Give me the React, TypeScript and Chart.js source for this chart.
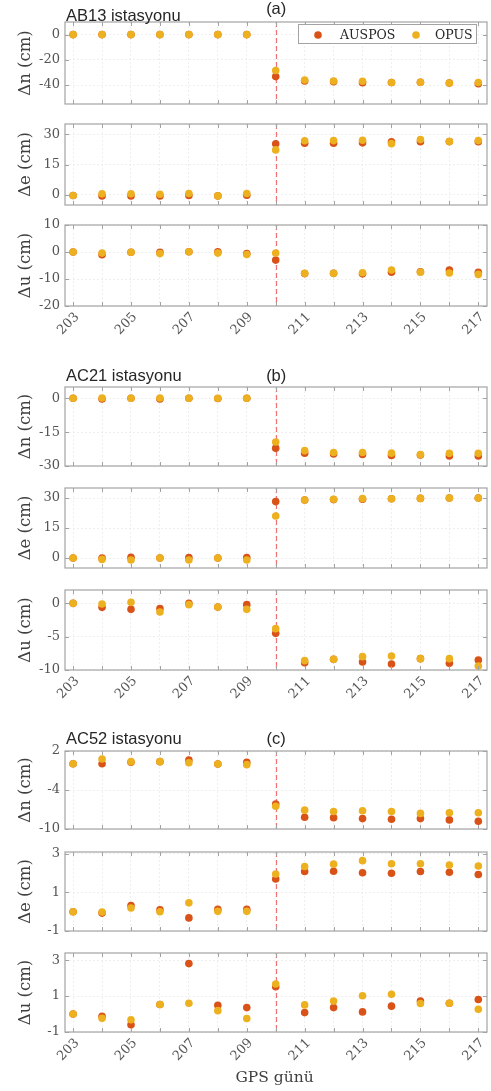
import React, { useEffect, useRef } from 'react';
import { Chart, registerables } from 'chart.js';

Chart.register(...registerables);

// ---------- data ----------
const days = [203, 204, 205, 206, 207, 208, 209, 210, 211, 212, 213, 214, 215, 216, 217];
const xTickLabels = [203, 205, 207, 209, 211, 213, 215, 217];
const eventDay = 210;

// (a) AB13
const ab13N_auspos = [0, 0, 0, 0, 0, 0, 0, -33.3, -36.8, -37.3, -38.1, -37.9, -37.8, -38.4, -38.9];
const ab13N_opus = [0, 0, 0, 0, 0, 0, 0, -28.5, -36.0, -36.8, -37.0, -37.9, -37.8, -38.4, -38.0];
const ab13E_auspos = [-0.3, -0.5, -0.5, -0.5, -0.3, -0.5, -0.2, 25.2, 25.5, 25.5, 25.7, 26.2, 26.2, 26.3, 26.2];
const ab13E_opus = [-0.3, 0.5, 0.5, 0.3, 0.7, -0.5, 0.7, 22.2, 26.7, 26.8, 27.0, 25.3, 27.3, 26.3, 26.8];
const ab13U_auspos = [0, -1.0, -0.1, -0.1, 0.1, 0.1, -0.6, -3.0, -8.0, -7.9, -8.1, -7.5, -7.3, -6.7, -7.5];
const ab13U_opus = [0, -0.4, -0.1, -0.6, 0.1, -0.4, -0.9, -0.4, -7.9, -7.9, -7.7, -6.7, -7.5, -7.8, -8.3];

// (b) AC21
const ac21N_auspos = [0, -0.3, 0, -0.3, 0, -0.1, 0, -22.1, -24.3, -24.7, -24.9, -25.3, -25.1, -25.6, -25.6];
const ac21N_opus = [0, 0.1, 0, 0.1, 0, 0, 0, -19.4, -23.2, -24.0, -24.0, -24.3, -24.9, -24.4, -24.4];
const ac21E_auspos = [0, 0, 0.3, 0, 0.2, 0, 0.2, 28.2, 29.0, 29.2, 29.4, 29.6, 29.8, 30.0, 30.0];
const ac21E_opus = [0, -0.7, -1.0, 0, -1.0, 0, -1.0, 21.0, 29.0, 29.4, 29.7, 29.6, 29.8, 30.0, 30.0];
const ac21U_auspos = [0, -0.6, -0.9, -0.8, 0, -0.55, -0.2, -4.5, -8.9, -8.4, -8.8, -9.1, -8.3, -9.0, -8.5];
const ac21U_opus = [0, -0.1, 0.15, -1.3, -0.2, -0.55, -0.9, -3.8, -8.6, -8.4, -8.0, -7.9, -8.3, -8.3, -9.4];

// (c) AC52
const ac52N_auspos = [0.05, 0.05, 0.26, 0.36, 0.6, 0, 0.26, -6.15, -8.2, -8.25, -8.4, -8.5, -8.4, -8.6, -8.8];
const ac52N_opus = [0.05, 0.77, 0.36, 0.36, 0.2, 0, -0.1, -6.5, -7.1, -7.3, -7.2, -7.3, -7.6, -7.5, -7.5];
const ac52E_auspos = [0, -0.07, 0.32, 0.1, -0.32, 0.12, 0.12, 1.7, 2.09, 2.1, 2.02, 2.0, 2.09, 2.05, 1.93];
const ac52E_opus = [0, -0.02, 0.19, 0, 0.46, 0.02, 0.02, 1.96, 2.35, 2.47, 2.65, 2.49, 2.49, 2.42, 2.37];
const ac52U_auspos = [0, -0.12, -0.6, 0.53, 2.81, 0.49, 0.36, 1.52, 0.08, 0.36, 0.12, 0.44, 0.72, 0.6, 0.81];
const ac52U_opus = [0, -0.23, -0.32, 0.53, 0.6, 0.19, -0.25, 1.67, 0.51, 0.72, 1.02, 1.1, 0.59, 0.6, 0.27];

// y tick values
const ticksAB13N = [-40, -20, 0];
const ticksAB13E = [0, 15, 30];
const ticksAB13U = [-20, -10, 0, 10];
const ticksAC21N = [-30, -15, 0];
const ticksAC21E = [0, 15, 30];
const ticksAC21U = [-10, -5, 0];
const ticksAC52N = [-10, -4, 2];
const ticksAC52E = [-1, 1, 3];
const ticksAC52U = [-1, 1, 3];

const seriesNames = ['AUSPOS', 'OPUS'];
const stationTitles = ['AB13 istasyonu', 'AC21 istasyonu', 'AC52 istasyonu'];
const panelTags = ['(a)', '(b)', '(c)'];
const xAxisTitle = 'GPS günü';

// ---------- styles ----------
const RED = '#D95319';
const ORANGE = '#EDB120';
const SERIF = "'DejaVu Serif', serif";
const SANS = "'Liberation Sans', Arial, sans-serif";
const TICK_COLOR = '#555555';
const FRAME = '#a3a3a3';
const GRID = '#ebebeb';
const W = 491;
const R = 3.8;

type PanelCfg = {
  top: number; bottom: number; min: number; max: number;
  yTicks: number[]; yLabel: string; a: number[]; o: number[];
  padTop: number; bottomSpace: number; showX: boolean;
  title?: string; tag?: string; titleBase?: number; tagBase?: number;
  legend?: boolean; xTitle?: boolean;
};

const panels: PanelCfg[] = [
  { top: 22, bottom: 104, min: -55, max: 10, yTicks: ticksAB13N, yLabel: 'Δn (cm)', a: ab13N_auspos, o: ab13N_opus, padTop: 22, bottomSpace: 10, showX: false, title: stationTitles[0], tag: panelTags[0], titleBase: 20.5, tagBase: 13.5, legend: true },
  { top: 124, bottom: 205, min: -5, max: 35, yTicks: ticksAB13E, yLabel: 'Δe (cm)', a: ab13E_auspos, o: ab13E_opus, padTop: 10, bottomSpace: 10, showX: false },
  { top: 225, bottom: 306, min: -20, max: 10, yTicks: ticksAB13U, yLabel: 'Δu (cm)', a: ab13U_auspos, o: ab13U_opus, padTop: 10, bottomSpace: 40, showX: true },
  { top: 387, bottom: 466, min: -30, max: 5, yTicks: ticksAC21N, yLabel: 'Δn (cm)', a: ac21N_auspos, o: ac21N_opus, padTop: 24, bottomSpace: 10, showX: false, title: stationTitles[1], tag: panelTags[1], titleBase: 380.5, tagBase: 380.5 },
  { top: 488, bottom: 568, min: -5, max: 35, yTicks: ticksAC21E, yLabel: 'Δe (cm)', a: ac21E_auspos, o: ac21E_opus, padTop: 10, bottomSpace: 10, showX: false },
  { top: 590, bottom: 670, min: -10, max: 2, yTicks: ticksAC21U, yLabel: 'Δu (cm)', a: ac21U_auspos, o: ac21U_opus, padTop: 10, bottomSpace: 40, showX: true },
  { top: 751, bottom: 829, min: -10, max: 2, yTicks: ticksAC52N, yLabel: 'Δn (cm)', a: ac52N_auspos, o: ac52N_opus, padTop: 24, bottomSpace: 10, showX: false, title: stationTitles[2], tag: panelTags[2], titleBase: 744, tagBase: 744 },
  { top: 852, bottom: 931, min: -1, max: 3.1, yTicks: ticksAC52E, yLabel: 'Δe (cm)', a: ac52E_auspos, o: ac52E_opus, padTop: 10, bottomSpace: 10, showX: false },
  { top: 953, bottom: 1032, min: -1, max: 3.4, yTicks: ticksAC52U, yLabel: 'Δu (cm)', a: ac52U_auspos, o: ac52U_opus, padTop: 10, bottomSpace: 59, showX: true, xTitle: true },
];

function makePlugin(p: PanelCfg, canvasTop: number) {
  const Y = (imgY: number) => imgY - canvasTop;
  return {
    id: 'decor',
    beforeDatasetsDraw(chart: any) {
      const { ctx, chartArea: ca, scales } = chart;
      const x = Math.round(scales.x.getPixelForValue(eventDay)) + 0.5;
      ctx.save();
      ctx.strokeStyle = '#f27272';
      ctx.lineWidth = 1.2;
      ctx.setLineDash([5, 3]);
      ctx.beginPath();
      ctx.moveTo(x, ca.top);
      ctx.lineTo(x, ca.bottom);
      ctx.stroke();
      ctx.restore();
    },
    afterDraw(chart: any) {
      const { ctx, chartArea: ca, scales } = chart;
      ctx.save();
      // frame
      ctx.strokeStyle = FRAME;
      ctx.lineWidth = 1.2;
      ctx.strokeRect(ca.left, ca.top, ca.right - ca.left, ca.bottom - ca.top);
      // inner ticks
      ctx.lineWidth = 1;
      ctx.beginPath();
      days.forEach((d) => {
        const px = Math.round(scales.x.getPixelForValue(d)) + 0.5;
        ctx.moveTo(px, ca.top); ctx.lineTo(px, ca.top + 4);
        ctx.moveTo(px, ca.bottom); ctx.lineTo(px, ca.bottom - 4);
      });
      p.yTicks.forEach((v) => {
        const py = Math.round(scales.y.getPixelForValue(v)) + 0.5;
        ctx.moveTo(ca.left, py); ctx.lineTo(ca.left + 4, py);
        ctx.moveTo(ca.right, py); ctx.lineTo(ca.right - 4, py);
      });
      ctx.stroke();
      ctx.restore();

      // y axis title
      ctx.save();
      ctx.fillStyle = '#404040';
      ctx.font = `16.5px ${SERIF}`;
      ctx.textAlign = 'center';
      ctx.textBaseline = 'middle';
      ctx.translate(25.5, (ca.top + ca.bottom) / 2);
      ctx.rotate(-Math.PI / 2);
      ctx.fillText(p.yLabel, 0, 0);
      ctx.restore();

      // station title and tag
      if (p.title) {
        ctx.save();
        ctx.fillStyle = '#262626';
        ctx.font = `16.5px ${SANS}`;
        ctx.textAlign = 'left';
        ctx.textBaseline = 'alphabetic';
        ctx.fillText(p.title, 66, Y(p.titleBase!));
        ctx.textAlign = 'center';
        ctx.fillText(p.tag!, scales.x.getPixelForValue(eventDay) + 0.5, Y(p.tagBase!));
        ctx.restore();
      }

      // legend
      if (p.legend) {
        ctx.save();
        const lx = 298.5, ly = Y(24.5), lw = 178, lh = 19;
        ctx.fillStyle = '#ffffff';
        ctx.fillRect(lx, ly, lw, lh);
        ctx.strokeStyle = FRAME;
        ctx.lineWidth = 1;
        ctx.strokeRect(lx, ly, lw, lh);
        const cy = Y(35);
        ctx.fillStyle = RED;
        ctx.beginPath(); ctx.arc(318, cy, R, 0, Math.PI * 2); ctx.fill();
        ctx.fillStyle = ORANGE;
        ctx.beginPath(); ctx.arc(416, cy, R, 0, Math.PI * 2); ctx.fill();
        ctx.fillStyle = '#262626';
        ctx.font = `12.5px ${SERIF}`;
        ctx.textAlign = 'left';
        ctx.textBaseline = 'alphabetic';
        ctx.fillText(seriesNames[0], 340, Y(39));
        ctx.fillText(seriesNames[1], 435, Y(39));
        ctx.restore();
      }

      // x axis title
      if (p.xTitle) {
        ctx.save();
        ctx.fillStyle = '#404040';
        ctx.font = `15.5px ${SERIF}`;
        ctx.textAlign = 'center';
        ctx.textBaseline = 'alphabetic';
        ctx.fillText(xAxisTitle, 274.5, Y(1081.5));
        ctx.restore();
      }
    },
  };
}

function Panel({ p }: { p: PanelCfg }) {
  const ref = useRef<HTMLCanvasElement>(null);
  const canvasTop = p.top - p.padTop;
  const height = p.padTop + (p.bottom - p.top) + p.bottomSpace;

  useEffect(() => {
    if (!ref.current) return;
    const chart = new Chart(ref.current, {
      type: 'scatter',
      data: {
        datasets: [
          {
            label: seriesNames[0],
            data: days.map((d, i) => ({ x: d, y: p.a[i] })),
            backgroundColor: RED,
            borderColor: RED,
            borderWidth: 0,
            pointRadius: R,
            order: 1,
          },
          {
            label: seriesNames[1],
            data: days.map((d, i) => ({ x: d, y: p.o[i] })),
            backgroundColor: ORANGE,
            borderColor: ORANGE,
            borderWidth: 0,
            pointRadius: R,
            order: 0,
          },
        ],
      },
      options: {
        responsive: false,
        animation: false,
        devicePixelRatio: 1,
        layout: { padding: { top: p.padTop, right: 3, left: 0, bottom: 0 } },
        plugins: {
          legend: { display: false },
          tooltip: { enabled: false },
          title: { display: false },
        },
        scales: {
          x: {
            type: 'linear',
            min: 202.72,
            max: 217.3,
            afterBuildTicks: (s: any) => { s.ticks = days.map((v) => ({ value: v })); },
            afterFit: (s: any) => { s.height = p.bottomSpace; s.paddingLeft = 0; s.paddingRight = 0; },
            grid: { color: GRID, drawTicks: false, lineWidth: 0.8 },
            border: { display: false, dash: [2, 2] },
            ticks: {
              display: p.showX,
              autoSkip: false,
              minRotation: 45,
              maxRotation: 45,
              padding: 3.5,
              labelOffset: 4,
              color: TICK_COLOR,
              font: { family: SERIF, size: 13 },
              callback: (v: any) => (xTickLabels.includes(Number(v)) ? String(v) : ''),
            },
          },
          y: {
            type: 'linear',
            min: p.min,
            max: p.max,
            afterBuildTicks: (s: any) => { s.ticks = p.yTicks.map((v) => ({ value: v })); },
            afterFit: (s: any) => { s.width = 65; s.paddingTop = 0; s.paddingBottom = 0; },
            grid: { color: GRID, drawTicks: false, lineWidth: 0.8 },
            border: { display: false, dash: [2, 2] },
            ticks: {
              padding: 5,
              color: TICK_COLOR,
              font: { family: SERIF, size: 13 },
              callback: (v: any) => String(v),
            },
          },
        },
      },
      plugins: [makePlugin(p, canvasTop)],
    } as any);
    return () => chart.destroy();
  }, []);

  return (
    <canvas
      ref={ref}
      width={W}
      height={height}
      style={{ position: 'absolute', left: 0, top: canvasTop, width: W, height, display: 'block' }}
    />
  );
}

export default function App() {
  return (
    <div style={{ position: 'absolute', left: 0, top: 0, width: W, height: 1091, background: '#ffffff', overflow: 'hidden' }}>
      {panels.map((p, i) => (
        <Panel key={i} p={p} />
      ))}
    </div>
  );
}
